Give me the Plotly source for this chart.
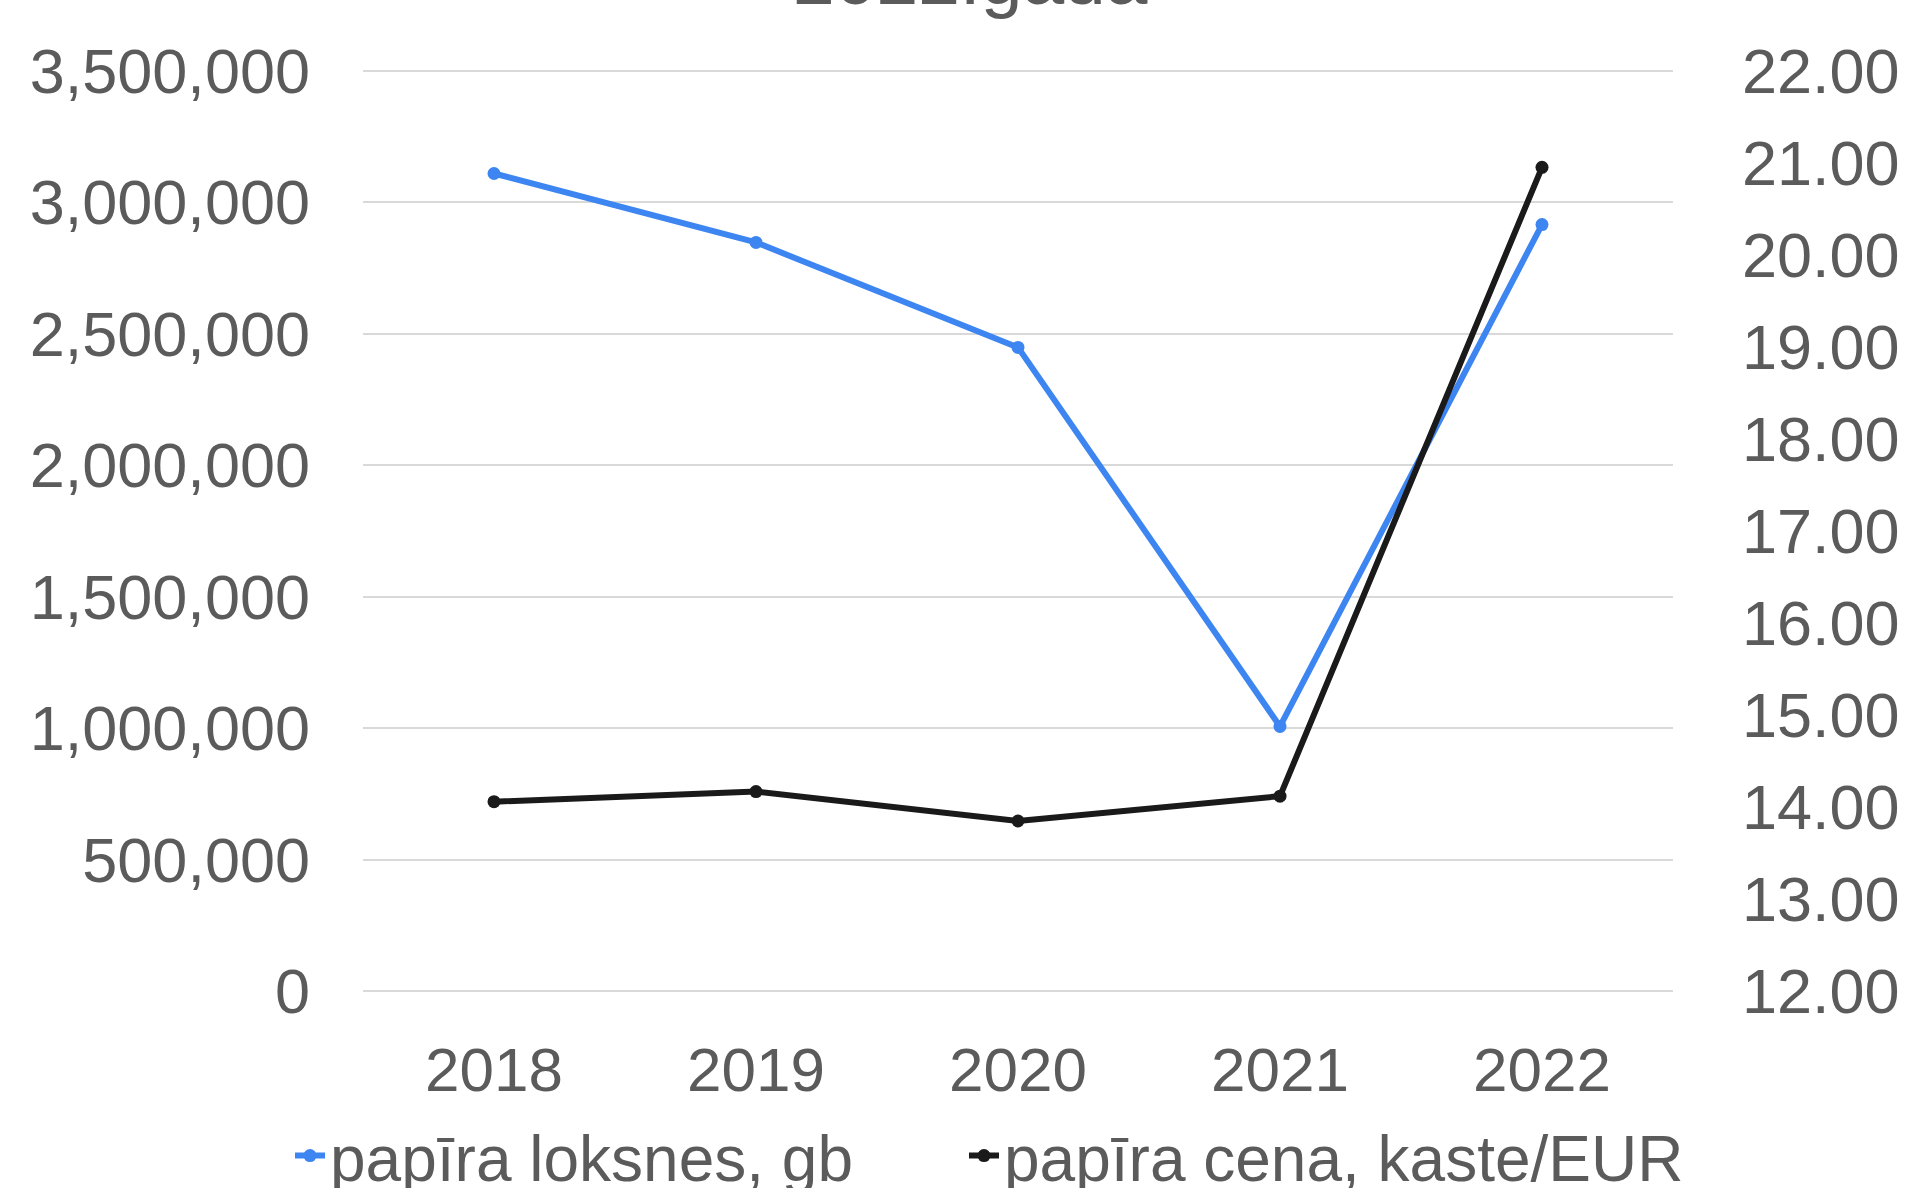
import plotly.graph_objects as go

# Data: paper sheets used per year and paper price per box
years = ["2018", "2019", "2020", "2021", "2022"]
sheets = [3109000, 2847000, 2448000, 1007000, 2915000]
price_per_box = [14.06, 14.17, 13.85, 14.12, 20.95]

sheets_name = "papīra loksnes, gb"
price_name = "papīra cena, kaste/EUR"
title_text = "2022.gadā"

left_ticks = [0, 500000, 1000000, 1500000, 2000000, 2500000, 3000000, 3500000]
right_ticks = [12, 13, 14, 15, 16, 17, 18, 19, 20, 21, 22]

FONT = "Liberation Sans, Arial, sans-serif"
TEXT_GRAY = "#5b5b5b"
BLUE = "#3d85f0"
BLACK = "#1a1a1a"

W, H = 1913, 1188
M_L, M_R, M_T, M_B = 363, 240, 69, 195

# a small pad on both value axes keeps the edge gridlines (0 and 3,500,000) visible
LEFT_RANGE = [0, 3500000]
RIGHT_RANGE = [12, 22]
PAD_FRAC = 0.0018
lpad = (LEFT_RANGE[1] - LEFT_RANGE[0]) * PAD_FRAC
rpad = (RIGHT_RANGE[1] - RIGHT_RANGE[0]) * PAD_FRAC

fig = go.Figure()

fig.add_trace(go.Scatter(
    x=years, y=sheets, name=sheets_name, mode="lines+markers",
    line=dict(color=BLUE, width=6), marker=dict(color=BLUE, size=13),
    yaxis="y", legend="legend",
))
fig.add_trace(go.Scatter(
    x=years, y=price_per_box, name=price_name, mode="lines+markers",
    line=dict(color=BLACK, width=6), marker=dict(color=BLACK, size=13),
    yaxis="y2", legend="legend2",
))

plot_h = H - M_T - M_B
plot_w = W - M_L - M_R


def px_to_paper_y(py):
    return (H - M_B - py) / plot_h


def px_to_paper_x(px):
    return (px - M_L) / plot_w


def legend_box(text_left_px):
    # each series gets its own legend box so the two entries can be spaced freely
    return dict(
        orientation="h", xanchor="left", yanchor="middle",
        x=px_to_paper_x(text_left_px - 39), y=px_to_paper_y(1156),
        font=dict(size=64, color=TEXT_GRAY), bgcolor="rgba(0,0,0,0)",
    )


fig.update_layout(
    width=W, height=H,
    margin=dict(l=M_L, r=M_R, t=M_T, b=M_B, autoexpand=False),
    paper_bgcolor="white", plot_bgcolor="white",
    font=dict(family=FONT, color=TEXT_GRAY, size=63),
    showlegend=True,
    legend=legend_box(329),
    legend2=legend_box(1003),
    xaxis=dict(
        type="category", range=[-0.5, 4.5], showgrid=False, zeroline=False,
        showline=False, ticks="", tickfont=dict(size=62, color=TEXT_GRAY),
        ticklabelstandoff=35, automargin=False,
    ),
    yaxis=dict(
        range=[LEFT_RANGE[0] - lpad, LEFT_RANGE[1] + lpad],
        tickvals=left_ticks, tickformat=",",
        showgrid=True, gridcolor="#d9d9d9", gridwidth=2, zeroline=False,
        showline=False, ticks="", tickfont=dict(size=63, color=TEXT_GRAY),
        ticklabelstandoff=52, automargin=False,
    ),
    yaxis2=dict(
        overlaying="y", side="right",
        range=[RIGHT_RANGE[0] - rpad, RIGHT_RANGE[1] + rpad],
        tickvals=right_ticks, tickformat=".2f", showgrid=False,
        zeroline=False, showline=False, ticks="",
        tickfont=dict(size=63, color=TEXT_GRAY),
        ticklabelstandoff=68, automargin=False,
    ),
    annotations=[dict(
        text=title_text, xref="paper", yref="paper",
        x=px_to_paper_x(970), y=px_to_paper_y(-22),
        xanchor="center", yanchor="middle", showarrow=False,
        font=dict(size=75, color=TEXT_GRAY, family=FONT),
    )],
)

fig.write_html("out.html")
